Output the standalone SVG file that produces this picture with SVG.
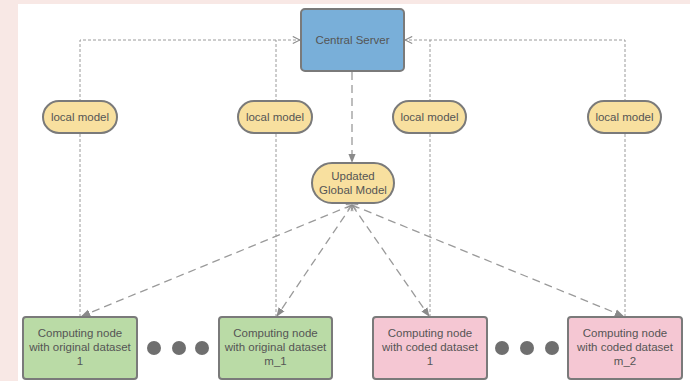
<svg xmlns="http://www.w3.org/2000/svg" width="690" height="381" viewBox="0 0 690 381">
  <defs>
    <style>
      .frame { fill: #f8e8e5; }
      .panel { fill: #ffffff; }
      .node { stroke: #7a7a7a; stroke-width: 2; }
      .server { fill: #79afd9; }
      .model { fill: #f8e09f; }
      .orig { fill: #badba6; }
      .coded { fill: #f5c7d3; }
      .dot { fill: #6f6f6f; }
      text { font-family: "Liberation Sans", Arial, sans-serif; font-size: 11.5px; fill: #555555; text-anchor: middle; }
      .upload { fill: none; stroke: #9a9a9a; stroke-width: 1; stroke-dasharray: 3 2; }
      .broadcast { fill: none; stroke: #9a9a9a; stroke-width: 1.3; stroke-dasharray: 8 5; }
    </style>
    <marker id="open" viewBox="0 0 10 10" refX="9" refY="5" markerWidth="9" markerHeight="9" orient="auto" markerUnits="userSpaceOnUse">
      <path d="M1,1 L9,5 L1,9" fill="none" stroke="#8a8a8a" stroke-width="1.2"/>
    </marker>
    <marker id="solid" viewBox="0 0 10 10" refX="9" refY="5" markerWidth="9" markerHeight="9" orient="auto" markerUnits="userSpaceOnUse">
      <path d="M0,1 L10,5 L0,9 Z" fill="#8a8a8a"/>
    </marker>
    <marker id="tail" viewBox="0 0 10 10" refX="1" refY="5" markerWidth="7" markerHeight="7" orient="auto" markerUnits="userSpaceOnUse">
      <path d="M9,1 L1,5 L9,9" fill="none" stroke="#8a8a8a" stroke-width="1.2"/>
    </marker>
  </defs>

  <!-- page frame -->
  <rect class="frame" x="0" y="0" width="690" height="381"/>
  <rect class="panel" x="18" y="4" width="672" height="377"/>

  <!-- connectors -->
  <g id="connectors">
    <path class="upload" d="M80,317 V40 H300" marker-end="url(#open)"/>
    <path class="upload" d="M276,317 V40"/>
    <path class="upload" d="M625,317 V40 H405" marker-end="url(#open)"/>
    <path class="upload" d="M430,317 V40"/>
    <path class="broadcast" d="M352,72 V162" marker-end="url(#solid)"/>
    <path class="broadcast" d="M352,205 L82,316" marker-start="url(#tail)" marker-end="url(#solid)"/>
    <path class="broadcast" d="M352,205 L277,316" marker-start="url(#tail)" marker-end="url(#solid)"/>
    <path class="broadcast" d="M352,205 L429,316" marker-start="url(#tail)" marker-end="url(#solid)"/>
    <path class="broadcast" d="M352,205 L623,316" marker-start="url(#tail)" marker-end="url(#solid)"/>
  </g>

  <g id="central-server">
    <rect class="node server" x="301" y="9" width="103" height="62" rx="4"/>
    <text x="352.5" y="44">Central Server</text>
  </g>

  <g id="local-model-1">
    <rect class="node model" x="43" y="101" width="74" height="32" rx="16"/>
    <text x="80" y="121">local model</text>
  </g>
  <g id="local-model-2">
    <rect class="node model" x="238" y="101" width="74" height="32" rx="16"/>
    <text x="275" y="121">local model</text>
  </g>
  <g id="local-model-3">
    <rect class="node model" x="393" y="101" width="73" height="32" rx="16"/>
    <text x="429.5" y="121">local model</text>
  </g>
  <g id="local-model-4">
    <rect class="node model" x="588" y="101" width="73" height="32" rx="16"/>
    <text x="624.5" y="121">local model</text>
  </g>

  <g id="global-model">
    <rect class="node model" x="312" y="163" width="82" height="40" rx="20"/>
    <text x="353" y="180">Updated</text>
    <text x="353" y="194">Global Model</text>
  </g>

  <g id="orig-node-1">
    <rect class="node orig" x="23" y="317" width="114" height="62" rx="3"/>
    <text x="80" y="337">Computing node</text>
    <text x="80" y="351">with original dataset</text>
    <text x="80" y="365">1</text>
  </g>
  <g id="orig-node-m1">
    <rect class="node orig" x="219" y="317" width="113" height="62" rx="3"/>
    <text x="275.5" y="337">Computing node</text>
    <text x="275.5" y="351">with original dataset</text>
    <text x="275.5" y="365">m_1</text>
  </g>
  <g id="coded-node-1">
    <rect class="node coded" x="373" y="317" width="114" height="62" rx="3"/>
    <text x="430" y="337">Computing node</text>
    <text x="430" y="351">with coded dataset</text>
    <text x="430" y="365">1</text>
  </g>
  <g id="coded-node-m2">
    <rect class="node coded" x="568" y="317" width="114" height="62" rx="3"/>
    <text x="625" y="337">Computing node</text>
    <text x="625" y="351">with coded dataset</text>
    <text x="625" y="365">m_2</text>
  </g>

  <!-- ellipsis dots between nodes -->
  <g id="ellipsis-orig">
    <circle class="dot" cx="154" cy="348" r="7"/>
    <circle class="dot" cx="179" cy="348" r="7"/>
    <circle class="dot" cx="202" cy="348" r="7"/>
  </g>
  <g id="ellipsis-coded">
    <circle class="dot" cx="502" cy="348" r="7"/>
    <circle class="dot" cx="527" cy="348" r="7"/>
    <circle class="dot" cx="552" cy="348" r="7"/>
  </g>
</svg>
